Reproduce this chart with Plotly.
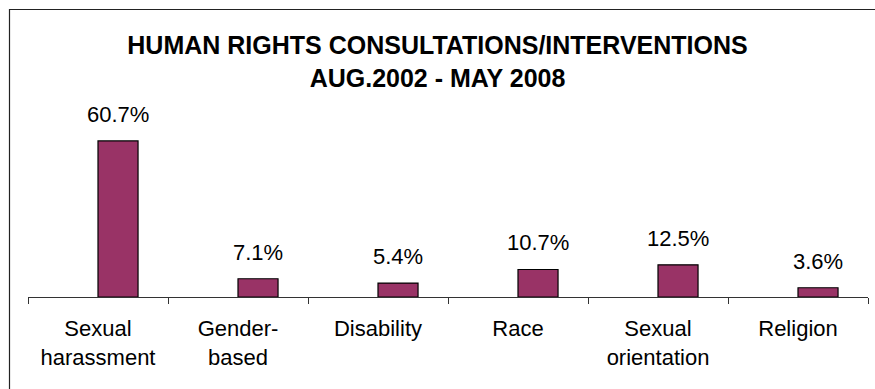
import plotly.graph_objects as go

categories = ["Sexual<br>harassment", "Gender-<br>based", "Disability", "Race", "Sexual<br>orientation", "Religion"]
values = [60.7, 7.1, 5.4, 10.7, 12.5, 3.6]
labels = ["60.7%", "7.1%", "5.4%", "10.7%", "12.5%", "3.6%"]
title_lines = ["HUMAN RIGHTS CONSULTATIONS/INTERVENTIONS", "AUG.2002 - MAY 2008"]

W, H = 875, 389
L, R, T, B = 28, 7, 117, 92
pw, ph = W - L - R, H - T - B
BAR_W = 0.286

fig = go.Figure(go.Bar(
    x=categories, y=values, width=BAR_W, offset=0,
    marker=dict(color="#993366", line=dict(color="black", width=1.2)),
))

for c, v, t in zip(categories, values, labels):
    fig.add_annotation(x=c, y=v, text=t, showarrow=False, yanchor="bottom",
                       xshift=BAR_W * pw / len(categories) / 2, yshift=12,
                       font=dict(family="Liberation Sans, Arial", size=22, color="black"))

# outer chart border (extends beyond the photographed area)
def px_x(p):
    return (p - L) / pw
def px_y(p):
    return (H - B - p) / ph
fig.add_shape(type="rect", xref="paper", yref="paper",
              x0=px_x(9.5), x1=px_x(900), y0=px_y(9.5), y1=px_y(420),
              line=dict(color="#222222", width=1.2), fillcolor="rgba(0,0,0,0)")

fig.update_layout(
    width=W, height=H,
    margin=dict(l=L, r=R, t=T, b=B, pad=0),
    paper_bgcolor="white", plot_bgcolor="white",
    showlegend=False,
    title=dict(text="<b>" + "<br>".join(title_lines) + "</b>",
               x=0.5, xref="container", xanchor="center",
               y=1 - 54 / H, yref="container", yanchor="top",
               font=dict(family="Liberation Sans, Arial", size=25, color="black")),
    font=dict(family="Liberation Sans, Arial", color="black"),
)
fig.update_xaxes(showline=True, linecolor="#333333", linewidth=1,
                 ticks="outside", tickson="boundaries", ticklen=6, tickcolor="#333333",
                 ticklabelstandoff=12,
                 tickfont=dict(size=22, color="black"), showgrid=False, mirror=False)
fig.update_yaxes(range=[0, 70], visible=False, showgrid=False, zeroline=False)

fig.write_html("out.html")
